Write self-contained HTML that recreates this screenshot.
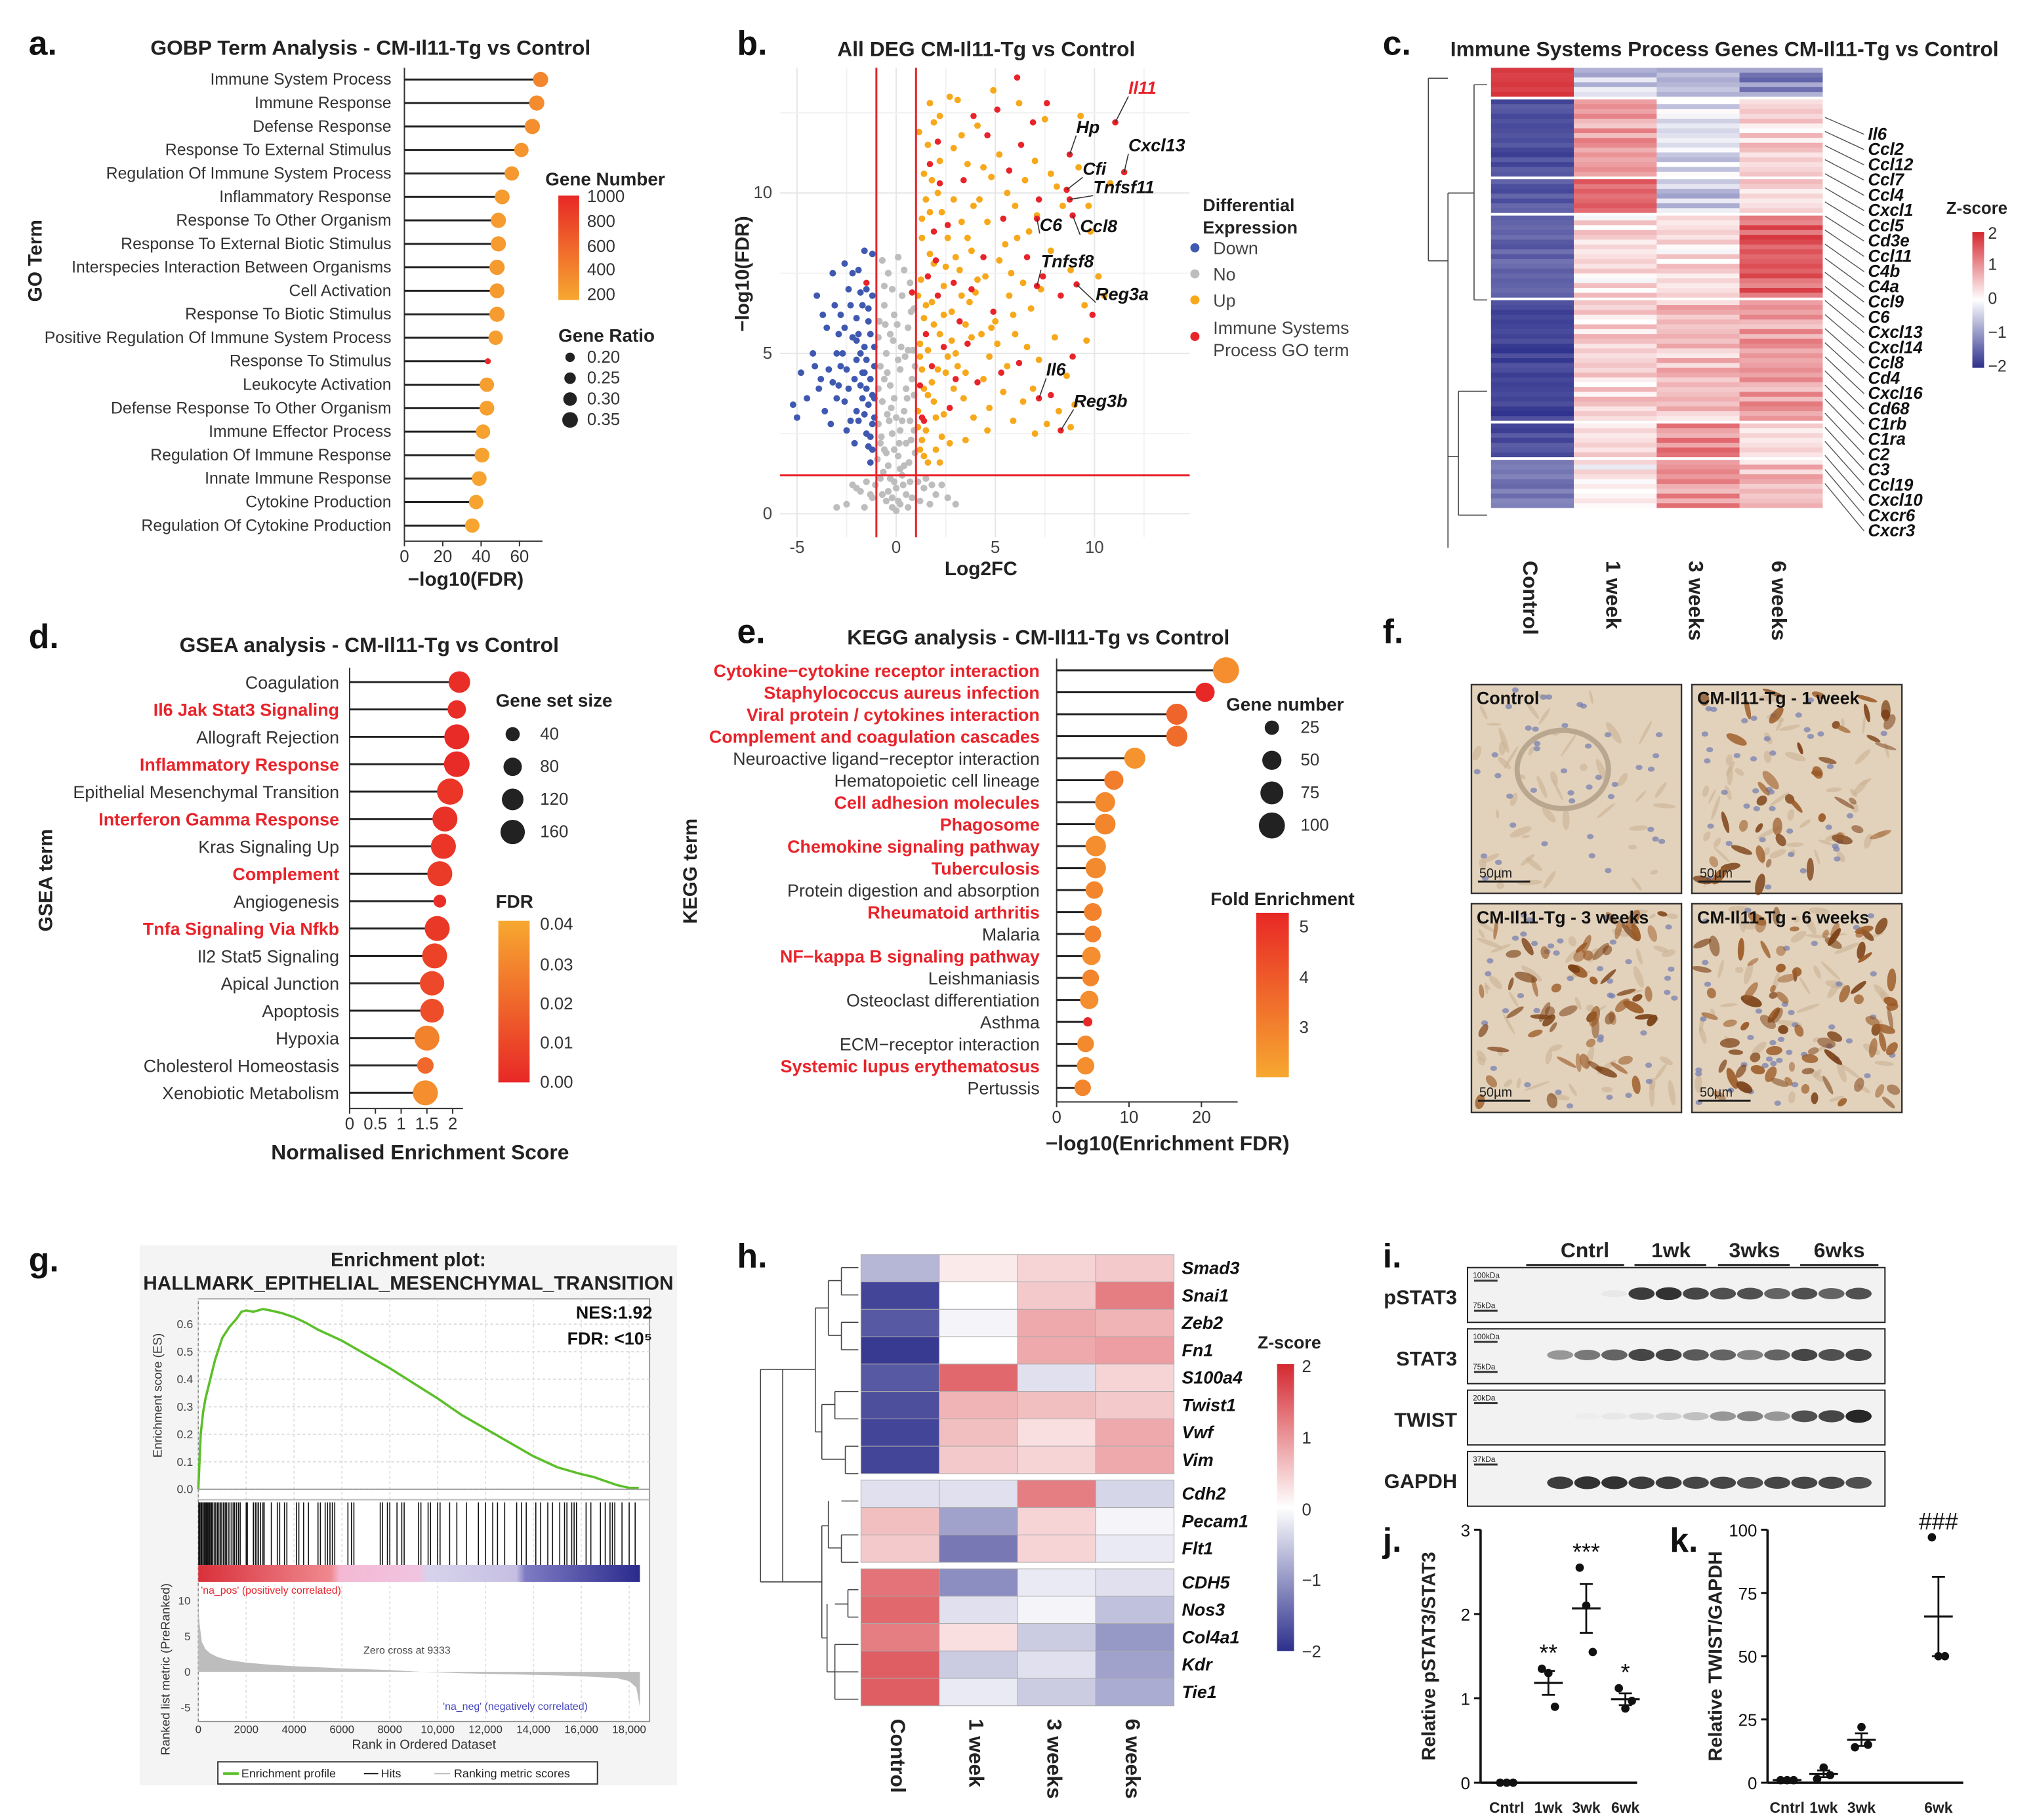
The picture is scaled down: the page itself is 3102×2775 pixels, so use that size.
<!DOCTYPE html>
<html><head><meta charset="utf-8"><style>
html,body{margin:0;padding:0;background:#fff}
svg{display:block}
text{font-family:"Liberation Sans",Arial,sans-serif}
</style></head><body>
<svg id="fig" xmlns="http://www.w3.org/2000/svg" width="3102" height="2775" viewBox="0 0 1560 1395.6">
<rect width="1560" height="1396" fill="#fff"/>
</svg>
<script>
// ===== DATA =====
const aTerms=["Immune System Process","Immune Response","Defense Response","Response To External Stimulus","Regulation Of Immune System Process","Inflammatory Response","Response To Other Organism","Response To External Biotic Stimulus","Interspecies Interaction Between Organisms","Cell Activation","Response To Biotic Stimulus","Positive Regulation Of Immune System Process","Response To Stimulus","Leukocyte Activation","Defense Response To Other Organism","Immune Effector Process","Regulation Of Immune Response","Innate Immune Response","Cytokine Production","Regulation Of Cytokine Production"];
const aFDR=[71,69,66.7,61,56,51,49,49,48.3,48.3,48.3,47.6,43.5,43,43,41,40.5,39,37.4,35.4];
const aGeneNum=[420,380,360,320,300,280,280,280,290,290,280,270,1000,260,250,240,240,230,230,220];
const aRatio=[0.34,0.34,0.34,0.32,0.32,0.33,0.34,0.34,0.34,0.33,0.34,0.32,0.12,0.32,0.33,0.32,0.33,0.33,0.32,0.32];

const dTerms=["Coagulation","Il6 Jak Stat3 Signaling","Allograft Rejection","Inflammatory Response","Epithelial Mesenchymal Transition","Interferon Gamma Response","Kras Signaling Up","Complement","Angiogenesis","Tnfa Signaling Via Nfkb","Il2 Stat5 Signaling","Apical Junction","Apoptosis","Hypoxia","Cholesterol Homeostasis","Xenobiotic Metabolism"];
const dRed=[0,1,0,1,0,1,0,1,0,1,0,0,0,0,0,0];
const dNES=[2.13,2.08,2.08,2.08,1.95,1.85,1.82,1.75,1.75,1.7,1.65,1.6,1.6,1.5,1.47,1.47];
const dSize=[120,80,170,180,190,170,170,170,30,170,170,160,150,170,60,170];
const dFDR=[0.002,0.002,0.001,0.001,0.004,0.003,0.004,0.006,0.002,0.005,0.008,0.01,0.012,0.028,0.02,0.032];

const eTerms=["Cytokine\u2212cytokine receptor interaction","Staphylococcus aureus infection","Viral protein / cytokines interaction","Complement and coagulation cascades","Neuroactive ligand\u2212receptor interaction","Hematopoietic cell lineage","Cell adhesion molecules","Phagosome","Chemokine signaling pathway","Tuberculosis","Protein digestion and absorption","Rheumatoid arthritis","Malaria","NF\u2212kappa B signaling pathway","Leishmaniasis","Osteoclast differentiation","Asthma","ECM\u2212receptor interaction","Systemic lupus erythematosus","Pertussis"];
const eRed=[1,1,1,1,0,0,1,1,1,1,0,1,0,1,0,0,0,0,1,0];
const eFDR=[23.4,20.5,16.6,16.6,10.8,7.9,6.7,6.7,5.4,5.4,5.2,5,5,4.8,4.7,4.5,4.3,4,4,3.6];
const eGenes=[100,50,62,62,62,50,55,60,58,58,40,42,36,45,36,45,8,36,40,35];
const eFold=[2.6,5.0,3.6,3.4,2.5,3.0,2.7,2.8,2.6,2.7,2.8,2.9,2.9,2.6,2.8,2.6,5.0,2.7,2.6,2.8];

const vDown=[[-1.2,2],[-1.5,2.5],[-1.1,3],[-2,3.2],[-1.8,4],[-2.5,4.5],[-1.3,4.2],[-3,5],[-2.2,5.5],[-1.6,5.2],[-3.5,5.8],[-2.8,6.2],[-1.4,6],[-4,6.8],[-2.4,7],[-1.9,7.6],[-3.2,7.5],[-5,3],[-4.5,3.6],[-3.8,4.2],[-2.6,3.5],[-3.3,2.8],[-1.7,3.6],[-2.1,2.2],[-1.3,5.6],[-2.9,4],[-4.2,5],[-1.5,7],[-1.2,8.1],[-1.6,8.2],[-3.6,3.2],[-2.3,6.5],[-1.8,5],[-2.7,5],[-3.1,6.5],[-1.1,4.6],[-1.4,3.4],[-2,4.8],[-2.5,2.6],[-1.9,2.9],[-4.8,4.4],[-3.9,3.9],[-1.2,6.8],[-2.2,7.5],[-1.7,4.4],[-1.3,2.4],[-1.6,3.1],[-2.4,3.9],[-1.1,5.2],[-2.0,6.1],[-2.8,4.6],[-1.5,4.8],[-3.4,4.5],[-1.9,5.6],[-1.2,3.7],[-2.6,5.8],[-1.4,2.1],[-3.0,3.6],[-1.7,6.5],[-2.1,4.2],[-1.3,1.6],[-2.3,2.9],[-1.6,4.4],[-1.1,3.6],[-2.9,5.6],[-3.7,6.2],[-2.0,5.4],[-1.4,6.4],[-1.8,6.9],[-2.6,7.8],[-3.2,4.1],[-4.1,4.6],[-5.2,3.4],[-1.5,3.9],[-1.2,2.8]];
const vNo=[[-0.9,5.5],[-0.5,5],[0.6,5.8],[0.2,4.5],[-0.3,4],[0.8,4.2],[-0.7,3.5],[0.4,3.2],[0,3],[-0.2,2.5],[0.5,2.2],[-0.6,2],[0.9,2.6],[-0.9,2.8],[0.1,1.8],[-0.4,1.5],[0.3,1.2],[0.7,1],[-0.8,1.1],[0,0.8],[-0.2,0.5],[0.2,0.3],[0.5,0.6],[-0.5,0.4],[-1.5,1],[1.5,1.1],[-2,0.8],[2,0.6],[-1.2,0.5],[1.2,0.4],[-2.5,0.3],[2.6,0.5],[0,0.1],[-0.1,6.2],[0.3,6.8],[-0.6,6.5],[0.7,7.2],[-0.4,7.5],[0.1,8],[-0.8,4.6],[0.9,3.7],[-0.1,3.6],[0.45,4.9],[-0.35,2.9],[0.65,1.6],[-0.65,1.3],[1.8,0.9],[-1.8,0.7],[3,0.3],[-3,0.2],[0.15,2.2],[-0.75,2.4],[0.55,3.6],[-0.45,4.4],[0.85,5.1],[-0.15,5.4],[0.35,0.9],[-0.3,1.1],[0.95,1.9],[-0.95,1.7],[0.25,5.2],[-0.55,5.9],[0.75,6.3],[-0.2,0.2],[0.1,0.4],[-0.4,0.7],[0.6,0.2],[-0.7,0.6],[0.8,0.5],[-0.1,1],[0.4,1.5],[-0.5,1.9],[0.2,2.6],[-0.8,2.2],[0.7,2.9],[-0.25,3.3],[0.5,3.9],[-0.6,4.2],[0.1,4.8],[-0.9,3.9],[0.95,4.6],[-0.3,5.6],[0.6,5.1],[-0.85,6],[0.9,6.4],[-0.2,7],[0.4,7.6],[-0.7,7.9],[0.2,1.4],[-0.1,2],[0.3,2.9],[-0.45,3.1],[0.75,2.3],[-1.3,0.6],[1.4,0.8],[-1.6,0.2],[1.7,0.3],[2.3,0.9],[-2.2,0.9],[1.1,1.0],[-1.05,0.9],[0.05,5.9],[-0.6,7.1]];
const vUp=[[1.2,2],[1.5,2.6],[1.1,3.2],[2,3],[1.8,4.1],[2.5,4.4],[1.3,4.5],[3,5],[2.2,5.6],[1.6,5.1],[3.5,5.9],[2.8,6.3],[1.4,6.1],[4,6.9],[2.4,7.1],[1.9,7.8],[3.2,7.6],[5,6],[4.5,7.4],[3.8,8.2],[2.6,8.6],[3.3,9.1],[1.7,9.4],[2.1,10],[4.2,9.8],[5.5,8.4],[6,9.6],[4.8,10.5],[3.6,10.9],[2.9,11.4],[5.2,11.2],[6.5,10.4],[7,11],[7.5,12.3],[6.2,12.8],[5.8,7.5],[6.8,6.4],[7.8,8.2],[8.4,9.6],[9.2,10.8],[9.8,8.8],[8.8,7.6],[10.2,7.4],[9.5,6.5],[8,5.5],[7.2,4.8],[6.6,5.2],[8.6,4.3],[9,3.4],[9.6,5.4],[10.5,6.8],[8.2,3.2],[7.6,2.8],[6.4,3.5],[5.4,3.8],[4.4,4.2],[3.4,3.6],[2.3,2.4],[1.4,1.8],[2.7,2.2],[4.6,2.6],[3.9,3],[5.6,4.6],[6.9,3.9],[8.8,2.7],[1.3,8.6],[1.6,11.5],[2.2,12.4],[3.1,12.9],[4.1,12.1],[4.9,13.2],[1.1,6.8],[1.2,5.3],[1.5,9.8],[2.6,4.9],[3.7,6.6],[4.3,5.6],[5.1,5.3],[5.9,6.2],[7.3,7],[6.1,8.6],[7.1,9.3],[8.1,10.2],[1.9,3.5],[2.9,3.9],[3.5,4.4],[4.7,4.9],[2.4,6.2],[1.8,6.6],[3,8],[2.3,9.4],[1.4,10.6],[1.7,12.8],[9.7,9.6],[10.8,10.3],[1.3,2.3],[1.6,3.7],[1.2,4.9],[2.1,4.5],[1.9,5.9],[2.8,5.4],[1.5,6.5],[3.3,6.8],[2.5,7.7],[1.7,8.1],[3.6,8.6],[2.9,9.8],[1.3,9.2],[4.6,9.1],[3.9,9.6],[5.6,10],[2.2,11],[1.8,10.4],[4.4,10.8],[3.3,11.8],[5.2,7.9],[4.1,7.3],[6.4,7.2],[1.1,2.7],[1.4,3.9],[2.4,3.1],[3.1,4.6],[1.6,1.6],[2.0,2],[3.8,5.5],[4.8,5.8],[5.7,6.8],[6.7,8.8],[7.8,10.6],[9.3,12.4],[1.25,7.3],[1.15,11.9],[2.7,13],[1.9,12.2],[4.7,3.3],[5.9,2.9],[7,2.5],[2.2,1.6],[3.5,2.3],[6.0,5.6]];
const vImm=[[1.3,3],[1.8,4.6],[2.4,5.2],[3.2,6],[2.1,6.8],[1.6,7.4],[2.9,7.2],[3.8,7],[4.4,8],[2.6,9],[5.4,9.2],[6.6,8],[7.4,7.4],[3.4,10.4],[4.6,11.8],[5.7,10.7],[6.9,12.2],[5.1,12.6],[2.1,11.6],[1.9,8.8],[1.5,5.6],[2.7,3.3],[4.1,4.1],[5.3,4.4],[6.2,4.7],[7.8,3.7],[8.9,4.9],[9.9,6.2],[8.3,6.8],[7.2,9.8],[6.3,11.5],[4.9,6.3],[3.6,5.3],[1.2,4],[-1.5,7.2],[0.8,6.9],[2.2,10.3],[3.9,12.4],[6.1,13.6],[7.6,12.8],[11.05,12.2],[8.75,11.2],[11.5,10.65],[8.6,10.1],[8.75,9.8],[7.1,9.2],[8.9,9.3],[7.1,7.1],[9.1,7.15],[7.2,3.6],[8.3,2.6],[1.4,2.9],[2.0,7.9],[3.0,4.2],[1.7,10.9]];
const vLabels=[["Il11",11.05,12.2,865,72],["Hp",8.75,11.2,825,102],["Cxcl13",11.5,10.65,865,116],["Cfi",8.6,10.1,830,134],["Tnfsf11",8.75,9.8,838,148],["C6",7.1,9.2,797,177],["Ccl8",8.9,9.3,828,178],["Tnfsf8",7.1,7.1,798,205],["Reg3a",9.1,7.15,840,230],["Il6",7.2,3.6,802,288],["Reg3b",8.3,2.6,823,312]];

const cGenes=["Il6","Ccl2","Ccl12","Ccl7","Ccl4","Cxcl1","Ccl5","Cd3e","Ccl11","C4b","C4a","Ccl9","C6","Cxcl13","Cxcl14","Ccl8","Cd4","Cxcl16","Cd68","C1rb","C1ra","C2","C3","Ccl19","Cxcl10","Cxcr6","Cxcr3"];
const cCols=["Control","1 week","3 weeks","6 weeks"];
const cBlockRows=[6,16,7,17,25,7,10];
const cBlockVals=[[1.8,-0.5,-0.7,-1.1],[-1.7,0.9,-0.3,0.4],[-1.6,1.4,-0.5,0.3],[-1.5,0.3,0.3,1.5],[-1.8,0.4,0.6,0.9],[-1.7,0.3,1.1,0.3],[-1.3,0.1,1.0,0.6]];
const cJitter=[0.1,-0.3,0.25,-0.1,0.35,-0.25,0,0.2,-0.4,0.15,-0.15,0.3,-0.05];

const hGenes=["Smad3","Snai1","Zeb2","Fn1","S100a4","Twist1","Vwf","Vim","Cdh2","Pecam1","Flt1","CDH5","Nos3","Col4a1","Kdr","Tie1"];
const hVals=[[-0.7,0.2,0.4,0.5],[-1.8,0,0.5,1.2],[-1.6,-0.1,0.8,0.7],[-1.9,0,0.8,0.9],[-1.6,1.4,-0.3,0.4],[-1.7,0.7,0.6,0.5],[-1.8,0.6,0.3,0.8],[-1.8,0.5,0.4,0.8],[-0.3,-0.3,1.2,-0.4],[0.6,-0.9,0.4,-0.1],[0.5,-1.3,0.4,-0.2],[1.3,-1.1,-0.2,-0.3],[1.4,-0.3,-0.1,-0.6],[1.2,0.3,-0.5,-1.0],[1.5,-0.5,-0.3,-0.9],[1.5,-0.2,-0.5,-0.8]];

const gRank=[0,100,200,300,500,700,1000,1300,1600,1800,2000,2300,2700,3000,3500,4000,4500,5000,5500,6000,7000,8000,9000,10000,11000,12000,13000,14000,15000,16000,16500,17000,17500,18000,18400];
const gES=[0,0.2,0.28,0.33,0.4,0.47,0.55,0.59,0.62,0.645,0.65,0.645,0.655,0.65,0.64,0.625,0.605,0.58,0.56,0.54,0.49,0.44,0.385,0.33,0.27,0.22,0.17,0.12,0.08,0.055,0.045,0.03,0.015,0.005,0.005];
const gHits=[20,60,110,150,200,250,300,340,380,420,470,520,560,610,680,730,800,860,930,980,1050,1120,1180,1250,1320,1400,1460,1520,1600,1680,1750,2000,2050,2300,2380,2450,2520,2600,2700,2750,3050,3300,3400,3600,3700,4100,4200,4400,4600,5000,5100,5300,5400,5500,5600,5700,6250,6400,6500,7600,7700,7900,8000,8300,8500,8600,9200,9300,9600,9700,10000,10100,10500,10800,11200,11700,12000,12300,12500,12800,13300,13500,13700,14100,14300,14600,14800,15100,15300,15400,15600,15700,15800,16200,16400,16800,17000,17200,17300,17400,17700,18000,18250];
const gMetRank=[0,60,150,300,500,800,1200,2000,3000,4000,6000,8000,9333,11000,13000,15000,16500,17500,18000,18300,18450];
const gMet=[9,6.5,4.2,3.2,2.6,2.1,1.7,1.3,1.0,0.8,0.5,0.25,0,-0.2,-0.35,-0.5,-0.7,-0.9,-1.3,-2.2,-5];

const wRows=["pSTAT3","STAT3","TWIST","GAPDH"];
const wBands=[[0,0,0.05,0.9,0.95,0.85,0.8,0.8,0.7,0.8,0.7,0.8],[0.45,0.6,0.7,0.85,0.85,0.75,0.7,0.55,0.7,0.85,0.8,0.85],[0,0.02,0.05,0.1,0.15,0.25,0.45,0.55,0.45,0.8,0.85,1.0],[0.9,0.95,0.95,0.9,0.9,0.85,0.85,0.8,0.85,0.85,0.85,0.8]];

const jGroups=["Cntrl","1wk","3wk","6wk"];
const jVals=[[0,0,0],[1.35,1.3,0.9],[2.55,2.1,1.55],[1.12,0.88,0.97]];
const jStars=["","**","***","*"];
const kVals=[[1,1,1],[1.5,6,3],[14,22,15],[97,50,50]];
const kStars=["","","","###"];

// ===== HELPERS =====
const S=document.getElementById('fig');
const NS='http://www.w3.org/2000/svg';
function mk(tag,parent,a){const e=document.createElementNS(NS,tag);for(const k in a)e.setAttribute(k,a[k]);(parent||S).appendChild(e);return e;}
function txt(parent,x,y,s,size,o){o=o||{};const e=mk('text',parent,{x:x,y:y,'font-size':size,fill:o.fill||'#222','text-anchor':o.anchor||'start','font-weight':o.bold?'bold':'normal','font-style':o.italic?'italic':'normal'});if(o.rot)e.setAttribute('transform','rotate('+o.rot+' '+x+' '+y+')');e.textContent=s;return e;}
function grp(name){const g=mk('g',S,{});return g;}
function lerp(a,b,t){return a+(b-a)*t;}
function hex(c){return 'rgb('+c.map(v=>Math.round(v)).join(',')+')';}
function mix(c1,c2,t){return hex([0,1,2].map(i=>lerp(c1[i],c2[i],t)));}
function orRed(t){return mix([247,168,48],[232,40,38],Math.max(0,Math.min(1,t)));}
function divc(v){v=Math.max(-2,Math.min(2,v));return v<0?mix([255,255,255],[45,48,140],-v/2):mix([255,255,255],[212,40,48],v/2);}
function panelLetter(x,y,s){const t=txt(S,x,y,s,26,{bold:true,fill:'#111'});}

// ===== PANEL A =====
(function(){const g=grp('panel-a-gobp-lollipop');
panelLetter(22,42,'a.');
txt(g,284,42,'GOBP Term Analysis - CM-Il11-Tg vs Control',16,{bold:true,anchor:'middle'});
const x0=310,kx=1.47,y0=61,dy=18;
const X=v=>x0+v*kx, Y=i=>y0+i*dy;
mk('line',g,{x1:x0,y1:52,x2:x0,y2:415,stroke:'#333','stroke-width':1});
mk('line',g,{x1:x0,y1:415,x2:X(72),y2:415,stroke:'#333','stroke-width':1});
[0,20,40,60].forEach(t=>{mk('line',g,{x1:X(t),y1:415,x2:X(t),y2:419,stroke:'#333'});txt(g,X(t),431,String(t),13,{anchor:'middle',fill:'#333'});});
txt(g,X(32),449,'\u2212log10(FDR)',15,{bold:true,anchor:'middle'});
txt(g,32,200,'GO Term',15,{bold:true,anchor:'middle',rot:-90});
aTerms.forEach((t,i)=>{txt(g,300,Y(i)+4,t,12.5,{anchor:'end',fill:'#333'});
 const l=mk('line',g,{x1:x0,y1:Y(i),x2:X(aFDR[i]),y2:Y(i),stroke:'#222','stroke-width':1.5});
 
 const r=2+Math.max(0,(aRatio[i]-0.1))*16;
 const c=mk('circle',g,{cx:X(aFDR[i]),cy:Y(i),r:r,fill:orRed((aGeneNum[i]-200)/800)});
 
 });
txt(g,418,142,'Gene Number',14,{bold:true});
const lg=mk('linearGradient',mk('defs',g,{}),{id:'ga',x1:0,y1:0,x2:0,y2:1});
mk('stop',lg,{offset:0,'stop-color':orRed(1)});mk('stop',lg,{offset:1,'stop-color':orRed(0)});
mk('rect',g,{x:428,y:150,width:16,height:80,fill:'url(#ga)'});
[[1000,155],[800,174],[600,193],[400,211],[200,230]].forEach(p=>txt(g,450,p[1],String(p[0]),13,{fill:'#333'}));
txt(g,428,262,'Gene Ratio',14,{bold:true});
[[0.20,278],[0.25,294],[0.30,310],[0.35,326]].forEach(p=>{mk('circle',g,{cx:437,cy:p[1]-4,r:2+(p[0]-0.1)*16,fill:'#222'});txt(g,450,p[1],p[0].toFixed(2),13,{fill:'#333'});});
})();

// ===== PANEL B =====
(function(){const g=grp('panel-b-volcano');
panelLetter(565,42,'b.');
txt(g,756,43,'All DEG CM-Il11-Tg vs Control',16,{bold:true,anchor:'middle'});
const X=v=>687+v*15.2, Y=v=>394-v*24.6;
mk('rect',g,{x:598,y:52,width:314,height:360,fill:'#fff'});
[-5,0,5,10].forEach(t=>{mk('line',g,{x1:X(t),y1:52,x2:X(t),y2:412,stroke:'#e6e6e6'});txt(g,X(t),424,String(t),13,{anchor:'middle',fill:'#444'});});
[-2.5,2.5,7.5,12.5].forEach(t=>mk('line',g,{x1:X(t),y1:52,x2:X(t),y2:412,stroke:'#f2f2f2'}));
[0,5,10].forEach(t=>{mk('line',g,{x1:598,y1:Y(t),x2:912,y2:Y(t),stroke:'#e6e6e6'});txt(g,592,Y(t)+4,String(t),13,{anchor:'end',fill:'#444'});});
[2.5,7.5,12.5].forEach(t=>mk('line',g,{x1:598,y1:Y(t),x2:912,y2:Y(t),stroke:'#f2f2f2'}));
txt(g,752,441,'Log2FC',15,{bold:true,anchor:'middle'});
txt(g,574,210,'\u2212log10(FDR)',15,{bold:true,anchor:'middle',rot:-90});
function pts(arr,col,name,r){arr.forEach((p,i)=>{const c=mk('circle',g,{cx:X(p[0]),cy:Y(p[1]),r:r,fill:col});});}
pts(vNo,'#bdbdbd','no',2.6);
pts(vDown,'#3f58b0','down',2.5);
pts(vUp,'#f7a81b','up',2.5);
pts(vImm,'#e8232a','immune',2.4);
mk('line',g,{x1:X(-1),y1:52,x2:X(-1),y2:412,stroke:'#e8232a','stroke-width':1.5});
mk('line',g,{x1:X(1),y1:52,x2:X(1),y2:412,stroke:'#e8232a','stroke-width':1.5});
mk('line',g,{x1:598,y1:Y(1.2),x2:912,y2:Y(1.2),stroke:'#e8232a','stroke-width':1.5});
vLabels.forEach(l=>{const lx=l[3],ly=l[4];mk('line',g,{x1:X(l[1]),y1:Y(l[2]),x2:lx+ (lx>X(l[1])?0:10),y2:ly+2,stroke:'#333','stroke-width':0.8});
 txt(g,lx,ly,l[0],13.5,{bold:true,italic:true,fill:l[0]==='Il11'?'#e8232a':'#111'});});
txt(g,922,162,'Differential',13.5,{bold:true});txt(g,922,179,'Expression',13.5,{bold:true});
[['Down','#3f58b0',195],['No','#bdbdbd',215],['Up','#f7a81b',235]].forEach(e=>{mk('circle',g,{cx:916,cy:e[2]-5,r:3.5,fill:e[1]});txt(g,930,e[2],e[0],13.5,{fill:'#444'});});
mk('circle',g,{cx:916,cy:258,r:3.5,fill:'#e8232a'});txt(g,930,256,'Immune Systems',13.5,{fill:'#444'});txt(g,930,273,'Process GO term',13.5,{fill:'#444'});
})();

// ===== PANEL C =====
(function(){const g=grp('panel-c-heatmap');
panelLetter(1060,42,'c.');
txt(g,1322,43,'Immune Systems Process Genes CM-Il11-Tg vs Control',16,{bold:true,anchor:'middle'});
const x0=1143,cw=63.5,top=52,rowH=3.7;let y=top;
cBlockRows.forEach((n,b)=>{for(let r=0;r<n;r++){for(let c=0;c<4;c++){const v=cBlockVals[b][c]+cJitter[(r*3+c*5+b)%cJitter.length]*(c===0?0.4:1);
 const rc=mk('rect',g,{x:x0+c*cw,y:y+r*rowH,width:cw+0.3,height:rowH+0.3,fill:divc(v)});}}
 y+=n*rowH;mk('rect',g,{x:x0,y:y,width:4*cw,height:2,fill:'#fff'});y+=2;});
const bottom=y;
const d=[[1130,65,1140,65],[1130,230,1140,230],[1130,65,1130,230],[1110,148,1130,148],[1110,148,1110,420],[1118,300,1140,300],[1118,395,1140,395],[1118,300,1118,395],[1110,350,1118,350],[1095,60,1110,60],[1095,60,1095,200],[1095,200,1110,200]];
d.forEach(s=>mk('line',g,{x1:s[0],y1:s[1],x2:s[2],y2:s[3],stroke:'#444','stroke-width':0.8}));
cGenes.forEach((n,i)=>{const ly=107+i*11.7;txt(g,1432,ly,n,13,{bold:true,italic:true,fill:'#111'});
 const hy=90+i*(bottom-100)/cGenes.length;mk('line',g,{x1:1399,y1:hy,x2:1429,y2:ly-4,stroke:'#555','stroke-width':0.7});});
cCols.forEach((n,i)=>txt(g,x0+i*cw+cw/2-7,430,n,16,{bold:true,rot:90}));
txt(g,1492,164,'Z-score',13,{bold:true});
const lg=mk('linearGradient',mk('defs',g,{}),{id:'gc',x1:0,y1:0,x2:0,y2:1});
[[0,2],[0.25,1],[0.5,0],[0.75,-1],[1,-2]].forEach(s=>mk('stop',lg,{offset:s[0],'stop-color':divc(s[1])}));
mk('rect',g,{x:1512,y:178,width:9,height:104,fill:'url(#gc)'});
[['2',183],['1',207],['0',233],['\u22121',259],['\u22122',285]].forEach(p=>txt(g,1524,p[1],p[0],12.5,{fill:'#333'}));
})();

// ===== PANEL D =====
(function(){const g=grp('panel-d-gsea-lollipop');
panelLetter(22,497,'d.');
txt(g,283,500,'GSEA analysis - CM-Il11-Tg vs Control',16,{bold:true,anchor:'middle'});
const x0=268,kx=39.5,y0=523,dy=21;const X=v=>x0+v*kx,Y=i=>y0+i*dy;
mk('line',g,{x1:x0,y1:512,x2:x0,y2:850,stroke:'#333'});mk('line',g,{x1:x0,y1:850,x2:X(2.2),y2:850,stroke:'#333'});
[0,0.5,1,1.5,2].forEach(t=>{mk('line',g,{x1:X(t),y1:850,x2:X(t),y2:854,stroke:'#333'});txt(g,X(t),866,String(t),13,{anchor:'middle',fill:'#333'});});
txt(g,322,889,'Normalised Enrichment Score',16,{bold:true,anchor:'middle'});
txt(g,40,675,'GSEA term',15,{bold:true,anchor:'middle',rot:-90});
dTerms.forEach((t,i)=>{txt(g,260,Y(i)+5,t,13.5,{anchor:'end',fill:dRed[i]?'#e8232a':'#333',bold:!!dRed[i]});
 mk('line',g,{x1:x0,y1:Y(i),x2:X(dNES[i]),y2:Y(i),stroke:'#222','stroke-width':1.5});
 const c=mk('circle',g,{cx:X(dNES[i]),cy:Y(i),r:1.5+Math.sqrt(dSize[i])*0.62,fill:orRed(1-dFDR[i]/0.04)});
 
 });
txt(g,380,542,'Gene set size',14,{bold:true});
[[40,567],[80,592],[120,617],[160,642]].forEach(p=>{mk('circle',g,{cx:393,cy:p[1]-4,r:1.5+Math.sqrt(p[0])*0.62,fill:'#222'});txt(g,414,p[1],String(p[0]),13,{fill:'#333'});});
txt(g,380,696,'FDR',14,{bold:true});
const lg=mk('linearGradient',mk('defs',g,{}),{id:'gd',x1:0,y1:0,x2:0,y2:1});
mk('stop',lg,{offset:0,'stop-color':orRed(0)});mk('stop',lg,{offset:1,'stop-color':orRed(1)});
mk('rect',g,{x:382,y:706,width:24,height:124,fill:'url(#gd)'});
[['0.04',713],['0.03',744],['0.02',774],['0.01',804],['0.00',834]].forEach(p=>txt(g,414,p[1],p[0],13,{fill:'#333'}));
})();

// ===== PANEL E =====
(function(){const g=grp('panel-e-kegg-lollipop');
panelLetter(565,493,'e.');
txt(g,796,494,'KEGG analysis - CM-Il11-Tg vs Control',16,{bold:true,anchor:'middle'});
const x0=810,kx=5.55,y0=514,dy=16.85;const X=v=>x0+v*kx,Y=i=>y0+i*dy;
mk('line',g,{x1:x0,y1:505,x2:x0,y2:845,stroke:'#333'});mk('line',g,{x1:x0,y1:845,x2:X(25),y2:845,stroke:'#333'});
[0,10,20].forEach(t=>{mk('line',g,{x1:X(t),y1:845,x2:X(t),y2:849,stroke:'#333'});txt(g,X(t),861,String(t),13,{anchor:'middle',fill:'#333'});});
txt(g,895,882,'\u2212log10(Enrichment FDR)',16,{bold:true,anchor:'middle'});
txt(g,534,668,'KEGG term',15,{bold:true,anchor:'middle',rot:-90});
eTerms.forEach((t,i)=>{txt(g,797,Y(i)+5,t,13.5,{anchor:'end',fill:eRed[i]?'#e8232a':'#333',bold:!!eRed[i]});
 mk('line',g,{x1:x0,y1:Y(i),x2:X(eFDR[i]),y2:Y(i),stroke:'#222','stroke-width':1.5});
 const c=mk('circle',g,{cx:X(eFDR[i]),cy:Y(i),r:1+Math.sqrt(eGenes[i])*0.9,fill:orRed((eFold[i]-2)/3)});
 
 });
txt(g,940,545,'Gene number',14,{bold:true});
[[25,562],[50,587],[75,612],[100,637]].forEach(p=>{mk('circle',g,{cx:975,cy:p[1]-4,r:1+Math.sqrt(p[0])*0.9,fill:'#222'});txt(g,997,p[1],String(p[0]),13,{fill:'#333'});});
txt(g,928,694,'Fold Enrichment',14,{bold:true});
const lg=mk('linearGradient',mk('defs',g,{}),{id:'ge',x1:0,y1:0,x2:0,y2:1});
mk('stop',lg,{offset:0,'stop-color':orRed(1)});mk('stop',lg,{offset:1,'stop-color':orRed(0)});
mk('rect',g,{x:963,y:700,width:25,height:126,fill:'url(#ge)'});
[['5',715],['4',754],['3',792]].forEach(p=>txt(g,996,p[1],p[0],13,{fill:'#333'}));
})();

// ===== PANEL F =====
(function(){const g=grp('panel-f-histology');
panelLetter(1060,493,'f.');
const panels=[[1128,525,'Control',0],[1297,525,'CM-Il11-Tg - 1 week',1],[1128,693,'CM-Il11-Tg - 3 weeks',2],[1297,693,'CM-Il11-Tg - 6 weeks',3]];
panels.forEach(p=>{const [x,y,l,k]=p;const sub=mk('g',g,{});
 mk('rect',sub,{x:x,y:y,width:161,height:160,fill:'#e3d2bb',stroke:'#333','stroke-width':1.2});
 let s=17+k*31;const rnd=()=>{s=(s*9301+49297)%233280;return s/233280;};
 for(let i=0;i<45;i++){const cx=x+4+rnd()*153,cy=y+4+rnd()*152;mk('ellipse',sub,{cx:cx,cy:cy,rx:2.5+rnd()*8,ry:1+rnd()*2,fill:'#c9b295',opacity:0.6,transform:'rotate('+(rnd()*180)+' '+cx+' '+cy+')'});}
 for(let i=0;i<40;i++){const cx=x+4+rnd()*153,cy=y+4+rnd()*152;mk('ellipse',sub,{cx:cx,cy:cy,rx:2.6,ry:2,fill:'#7880b0',opacity:0.75});}
 const nb=[0,45,60,80][k];
 for(let i=0;i<nb;i++){const cx=x+6+rnd()*149,cy=y+6+rnd()*148;mk('ellipse',sub,{cx:cx,cy:cy,rx:1.5+rnd()*2.5,ry:3+rnd()*6,fill:rnd()>0.5?'#7a3f14':'#9b5a26',opacity:0.5+rnd()*0.45,transform:'rotate('+(rnd()*180)+' '+cx+' '+cy+')'});}
 if(k===0){mk('ellipse',sub,{cx:x+70,cy:y+65,rx:35,ry:30,fill:'none',stroke:'#b9a78f','stroke-width':4});}
 txt(sub,x+4,y+15,l,13.5,{bold:true,fill:'#111'});
 mk('line',sub,{x1:x+5,y1:y+151,x2:x+45,y2:y+151,stroke:'#222','stroke-width':1.5});
 txt(sub,x+6,y+148,'50\u00b5m',10,{fill:'#222'});});
})();

// ===== PANEL G =====
(function(){const g=grp('panel-g-enrichment-plot');
panelLetter(22,975,'g.');
mk('rect',g,{x:107,y:955,width:412,height:414,fill:'#f4f4f4'});
txt(g,313,971,'Enrichment plot:',15,{bold:true,anchor:'middle'});
txt(g,313,989,'HALLMARK_EPITHELIAL_MESENCHYMAL_TRANSITION',15,{bold:true,anchor:'middle'});
const L=152,R=498;const X=v=>L+v*0.01835;const Y=v=>1142-v*211;
mk('rect',g,{x:L,y:996,width:R-L,height:324,fill:'#fff',stroke:'#888','stroke-width':0.8});
[0,0.1,0.2,0.3,0.4,0.5,0.6].forEach(t=>{mk('line',g,{x1:L,y1:Y(t),x2:R,y2:Y(t),stroke:'#ddd','stroke-dasharray':'2,2'});txt(g,L-4,Y(t)+3,t.toFixed(1),9,{anchor:'end',fill:'#444'});});
[0,2000,4000,6000,8000,10000,12000,14000,16000,18000].forEach(t=>{mk('line',g,{x1:X(t),y1:996,x2:X(t),y2:1320,stroke:'#e2e2e2','stroke-dasharray':'2,2'});txt(g,X(t),1329,t>=10000?(t/1000)+',000':String(t),8.5,{anchor:'middle',fill:'#333'});});
txt(g,124,1070,'Enrichment score (ES)',9.5,{anchor:'middle',rot:-90,fill:'#333'});
const es=mk('polyline',g,{points:gRank.map((r,i)=>X(r)+','+Y(gES[i])).join(' '),fill:'none',stroke:'#5cbf2a','stroke-width':1.8});

mk('line',g,{x1:L,y1:1142,x2:R,y2:1142,stroke:'#999'});
mk('line',g,{x1:L,y1:1150,x2:R,y2:1150,stroke:'#bbb'});
gHits.forEach(h=>mk('line',g,{x1:X(h),y1:1152,x2:X(h),y2:1200,stroke:'#111','stroke-width':0.8}));
const lg=mk('linearGradient',mk('defs',g,{}),{id:'gg',x1:0,y1:0,x2:1,y2:0});
[[0,'#d9303a'],[0.3,'#ef8a90'],[0.32,'#f4b8d3'],[0.5,'#f0c4e0'],[0.52,'#d7d3ec'],[0.72,'#c6bfe2'],[0.74,'#7f7cc4'],[1,'#2a2a8c']].forEach(s=>mk('stop',lg,{offset:s[0],'stop-color':s[1]}));
mk('rect',g,{x:L,y:1200,width:X(18450)-L,height:13,fill:'url(#gg)'});
txt(g,154,1222,"'na_pos' (positively correlated)",8,{fill:'#e8232a'});
const YM=v=>1282-v*5.45;
[10,5,0,-5].forEach(t=>txt(g,L-6,YM(t)+3,t<0?'-5':String(t),8.5,{anchor:'end',fill:'#444'}));
const met=mk('polygon',g,{points:X(0)+','+YM(0)+' '+gMetRank.map((r,i)=>X(r)+','+YM(gMet[i])).join(' ')+' '+X(18450)+','+YM(0),fill:'#bdbdbd'});

txt(g,312,1268,'Zero cross at 9333',8,{anchor:'middle',fill:'#444'});
txt(g,395,1311,"'na_neg' (negatively correlated)",8,{anchor:'middle',fill:'#4444bb'});
txt(g,130,1280,'Ranked list metric (PreRanked)',9.5,{anchor:'middle',rot:-90,fill:'#333'});
txt(g,325,1341,'Rank in Ordered Dataset',10,{anchor:'middle',fill:'#333'});
txt(g,500,1011,'NES:1.92',13.5,{bold:true,anchor:'end',fill:'#111'});
txt(g,500,1031,'FDR: <10\u2075',13.5,{bold:true,anchor:'end',fill:'#111'});
mk('rect',g,{x:167,y:1351,width:291,height:17,fill:'#fff',stroke:'#333'});
mk('line',g,{x1:171,y1:1360,x2:183,y2:1360,stroke:'#5cbf2a','stroke-width':2});txt(g,185,1363,'Enrichment profile',9,{fill:'#222'});
mk('line',g,{x1:279,y1:1360,x2:290,y2:1360,stroke:'#111'});txt(g,292,1363,'Hits',9,{fill:'#222'});
mk('line',g,{x1:333,y1:1360,x2:345,y2:1360,stroke:'#bbb'});txt(g,348,1363,'Ranking metric scores',9,{fill:'#222'});
})();

// ===== PANEL H =====
(function(){const g=grp('panel-h-emt-heatmap');
panelLetter(565,972,'h.');
const x0=660,cw=60,rh=21;const ys=[962,962,962,962,962,962,962,962,967,967,967,972,972,972,972,972];
hVals.forEach((row,i)=>{row.forEach((v,c)=>{const r=mk('rect',g,{x:x0+c*cw,y:ys[i]+i*rh,width:cw,height:rh,fill:divc(v),stroke:'#aaa','stroke-width':0.5});});
 txt(g,906,ys[i]+i*rh+15,hGenes[i],13.5,{bold:true,italic:true,fill:'#111'});});
const d=[[645,972,658,972],[645,993,658,993],[645,972,645,993],[635,982,645,982],[645,1014,658,1014],[645,1035,658,1035],[645,1014,645,1035],[635,1024,645,1024],[635,982,635,1024],[625,1003,635,1003],[640,1067,658,1067],[640,1088,658,1088],[640,1067,640,1088],[630,1077,640,1077],[648,1109,658,1109],[648,1130,658,1130],[648,1109,648,1130],[630,1119,648,1119],[630,1077,630,1119],[625,1098,630,1098],[625,1003,625,1098],[600,1050,625,1050],
[645,1151,658,1151],[645,1177,658,1177],[645,1198,658,1198],[645,1177,645,1198],[635,1187,645,1187],[635,1151,635,1187],[630,1170,635,1170],[650,1219,658,1219],[650,1240,658,1240],[650,1219,650,1240],[640,1230,650,1230],[640,1261,658,1261],[640,1282,658,1282],[640,1303,658,1303],[640,1261,640,1303],[634,1282,640,1282],[634,1230,634,1282],[630,1256,634,1256],[630,1170,630,1256],[600,1213,630,1213],[583,1050,600,1050],[583,1213,600,1213],[583,1050,583,1213],[600,1050,600,1213]];
d.forEach(s=>mk('line',g,{x1:s[0],y1:s[1],x2:s[2],y2:s[3],stroke:'#444','stroke-width':0.8}));
cCols.forEach((n,i)=>txt(g,x0+i*cw+cw/2-7,1318,n,16,{bold:true,rot:90}));
txt(g,964,1034,'Z-score',13.5,{bold:true});
const lg=mk('linearGradient',mk('defs',g,{}),{id:'gh',x1:0,y1:0,x2:0,y2:1});
[[0,2],[0.25,1],[0.5,0],[0.75,-1],[1,-2]].forEach(s=>mk('stop',lg,{offset:s[0],'stop-color':divc(s[1])}));
mk('rect',g,{x:979,y:1046,width:13,height:220,fill:'url(#gh)'});
[['2',1052],['1',1107],['0',1162],['\u22121',1216],['\u22122',1271]].forEach(p=>txt(g,998,p[1],p[0],13,{fill:'#333'}));
})();

// ===== PANEL I =====
(function(){const g=grp('panel-i-western-blot');
panelLetter(1060,972,'i.');
[['Cntrl',1215,1170,1245],['1wk',1281,1253,1308],['3wks',1345,1317,1372],['6wks',1410,1380,1440]].forEach(h=>{txt(g,h[1],964,h[0],16,{bold:true,anchor:'middle'});mk('line',g,{x1:h[2],y1:970,x2:h[3],y2:970,stroke:'#222','stroke-width':1.5});});
const ys=[972,1019,1066,1113],bh=42;
wRows.forEach((n,r)=>{txt(g,1117,ys[r]+28,n,15.5,{bold:true,anchor:'end'});
 mk('rect',g,{x:1125,y:ys[r],width:320,height:bh,fill:'#f2f2f2',stroke:'#222','stroke-width':1});
 mk('line',g,{x1:1130,y1:ys[r]+10,x2:1148,y2:ys[r]+10,stroke:'#333','stroke-width':1.5});
 txt(g,1129,ys[r]+8,r===2?'20kDa':(r===3?'37kDa':'100kDa'),6,{fill:'#222'});
 if(r<2){mk('line',g,{x1:1130,y1:ys[r]+33,x2:1148,y2:ys[r]+33,stroke:'#333','stroke-width':1.5});txt(g,1129,ys[r]+31,'75kDa',6,{fill:'#222'});}
 wBands[r].forEach((v,i)=>{const b=mk('ellipse',g,{cx:1196+i*20.8,cy:ys[r]+(r===3?24:20),rx:10,ry:2.5+v*2.5,fill:'#111',opacity:v*0.9});});});
})();

// ===== PANEL J & K =====
function dotplot(name,letter,lx,ax0,axW,yTicks,ymax,vals,stars,ylab,gx){const g=grp(name);
panelLetter(lx,1190,letter);
const yb=1367,yt=1173;const Y=v=>yb-(v/ymax)*(yb-yt);
mk('line',g,{x1:ax0,y1:yt,x2:ax0,y2:yb,stroke:'#111','stroke-width':1.8});mk('line',g,{x1:ax0,y1:yb,x2:ax0+axW,y2:yb,stroke:'#111','stroke-width':1.8});
yTicks.forEach(t=>{mk('line',g,{x1:ax0-5,y1:Y(t),x2:ax0,y2:Y(t),stroke:'#111','stroke-width':1.5});txt(g,ax0-8,Y(t)+5,String(t),13,{anchor:'end',fill:'#111'});});
txt(g,ax0-35,1270,ylab,14.5,{bold:true,anchor:'middle',rot:-90});
jGroups.forEach((gn,i)=>{const x=gx[i];txt(g,x,1390,gn,11.5,{bold:true,anchor:'middle'});
 const v=vals[i];const m=(v[0]+v[1]+v[2])/3;const sd=Math.sqrt(v.reduce((s,a)=>s+(a-m)*(a-m),0)/2)/Math.sqrt(3);
 mk('line',g,{x1:x-11,y1:Y(m),x2:x+11,y2:Y(m),stroke:'#111','stroke-width':1.6});
 mk('line',g,{x1:x,y1:Y(m+sd),x2:x,y2:Y(Math.max(0,m-sd)),stroke:'#111','stroke-width':1.4});
 mk('line',g,{x1:x-5,y1:Y(m+sd),x2:x+5,y2:Y(m+sd),stroke:'#111','stroke-width':1.4});
 mk('line',g,{x1:x-5,y1:Y(Math.max(0,m-sd)),x2:x+5,y2:Y(Math.max(0,m-sd)),stroke:'#111','stroke-width':1.4});
 v.forEach((a,k)=>{const c=mk('circle',g,{cx:x+(k-1)*5,cy:Y(a),r:3.2,fill:'#111'});});
 if(stars[i])txt(g,x,Y(Math.max(...v))-6,stars[i],18,{anchor:'middle',fill:'#111'});});
}
dotplot('panel-j-pstat3-dotplot','j.',1060,1135,120,[0,1,2,3],3,jVals,jStars,'Relative pSTAT3/STAT3',[1155,1187,1216,1246]);
dotplot('panel-k-twist-dotplot','k.',1280,1355,150,[0,25,50,75,100],100,kVals,kStars,'Relative TWIST/GAPDH',[1370,1398,1427,1486]);
</script>
</body></html>
